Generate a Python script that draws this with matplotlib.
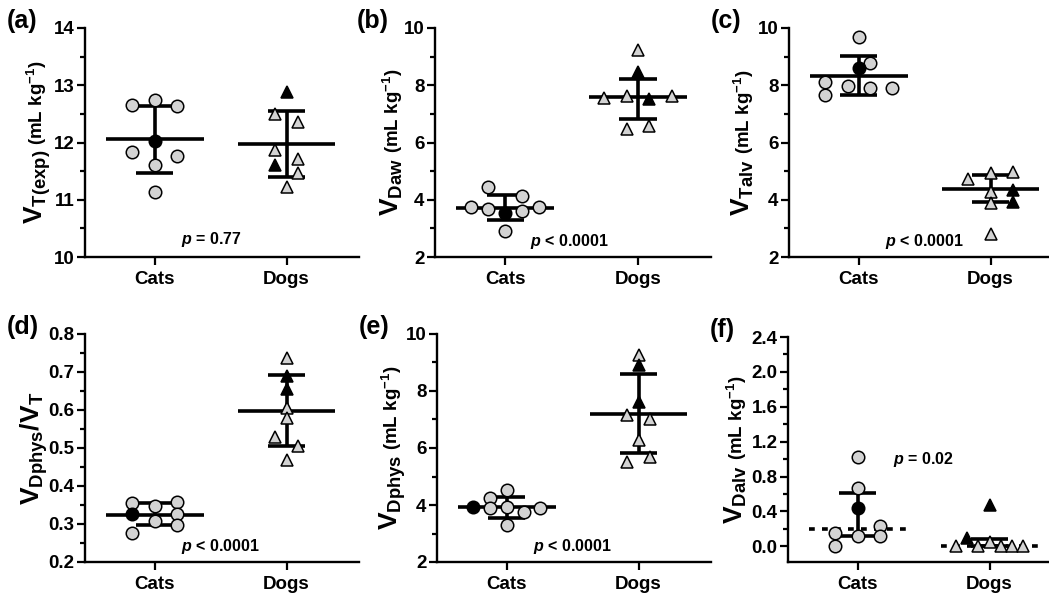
import numpy as np
import matplotlib.pyplot as plt
from matplotlib.ticker import MultipleLocator, FormatStrFormatter
from matplotlib.transforms import IdentityTransform

plt.rcParams['font.family'] = 'Liberation Sans'
plt.rcParams['font.weight'] = 'bold'
plt.rcParams['mathtext.fontset'] = 'custom'
plt.rcParams['mathtext.rm'] = 'Liberation Sans:bold'
plt.rcParams['mathtext.bf'] = 'Liberation Sans:bold'
plt.rcParams['mathtext.it'] = 'Liberation Sans:bold:italic'

groups = ['Cats', 'Dogs']

# ---- data (8 cats, 8 dogs; 1 = black marker) ----
# (a) VT(exp)
a_cats = [12.66, 12.75, 12.63, 11.84, 12.03, 11.77, 11.61, 11.13]
a_cats_slot = [-2, 0, 2, -2, 0, 2, 0, 0]
a_cats_black = [0, 0, 0, 0, 1, 0, 0, 0]
a_dogs = [12.88, 12.50, 12.35, 11.87, 11.61, 11.72, 11.47, 11.23]
a_dogs_slot = [0, -1, 1, -1, -1, 1, 1, 0]
a_dogs_black = [1, 0, 0, 0, 1, 0, 0, 0]
a_mid = [12.06, 11.97]
a_low = [11.47, 11.39]
a_high = [12.63, 12.55]

# (b) VDaw
b_cats = [4.43, 4.13, 3.75, 3.67, 3.75, 3.60, 3.52, 2.90]
b_cats_slot = [-1.5, 1.5, -3, -1.5, 3, 1.5, 0, 0]
b_cats_black = [0, 0, 0, 0, 0, 0, 1, 0]
b_dogs = [9.24, 8.46, 7.55, 7.63, 7.52, 7.63, 6.47, 6.59]
b_dogs_slot = [0, 0, -3, -1, 1, 3, -1, 1]
b_dogs_black = [0, 1, 0, 0, 1, 0, 0, 0]
b_mid = [3.72, 7.58]
b_low = [3.28, 6.82]
b_high = [4.18, 8.22]

# (c) VTalv
c_cats = [9.67, 8.62, 8.77, 8.11, 7.66, 7.96, 7.90, 7.92]
c_cats_slot = [0, 0, 1, -3, -3, -1, 1, 3]
c_cats_black = [0, 1, 0, 0, 0, 0, 0, 0]
c_dogs = [4.72, 4.92, 4.98, 4.28, 4.34, 3.87, 3.93, 2.79]
c_dogs_slot = [-2, 0, 2, 0, 2, 0, 2, 0]
c_dogs_black = [0, 0, 0, 0, 1, 0, 1, 0]
c_mid = [8.34, 4.37]
c_low = [7.66, 3.93]
c_high = [9.01, 4.86]

# (d) VDphys/VT
d_cats = [0.356, 0.348, 0.358, 0.327, 0.327, 0.307, 0.297, 0.277]
d_cats_slot = [-2, 0, 2, -2, 2, 0, 2, -2]
d_cats_black = [0, 0, 0, 1, 0, 0, 0, 0]
d_dogs = [0.738, 0.689, 0.654, 0.606, 0.578, 0.529, 0.506, 0.468]
d_dogs_slot = [0, 0, 0, 0, 0, -1, 1, 0]
d_dogs_black = [0, 1, 1, 0, 0, 0, 0, 0]
d_mid = [0.325, 0.597]
d_low = [0.297, 0.505]
d_high = [0.354, 0.692]

# (e) VDphys
e_cats = [3.94, 4.25, 3.88, 4.52, 3.94, 3.31, 3.74, 3.88]
e_cats_slot = [-3, -1.5, -1.5, 0, 0, 0, 1.5, 3]
e_cats_black = [1, 0, 0, 0, 0, 0, 0, 0]
e_dogs = [9.27, 8.90, 7.61, 7.16, 7.02, 6.28, 5.52, 5.70]
e_dogs_slot = [0, 0, 0, -1, 1, 0, -1, 1]
e_dogs_black = [0, 1, 1, 0, 0, 0, 0, 0]
e_mid = [3.94, 7.20]
e_low = [3.56, 5.81]
e_high = [4.28, 8.59]

# (f) VDalv
f_cats = [1.025, 0.672, 0.442, 0.238, 0.154, 0.115, 0.115, 0.008]
f_cats_slot = [0, 0, 0, 2, -2, 0, 2, -2]
f_cats_black = [0, 0, 1, 0, 0, 0, 0, 0]
f_dogs = [0.476, 0.096, 0.0, 0.0, 0.046, 0.0, 0.0, 0.0]
f_dogs_slot = [0, -2, -3, -1, 0, 1, 2, 3]
f_dogs_black = [1, 1, 0, 0, 0, 0, 0, 0]
f_mid = [0.20, 0.0]
f_low = [0.115, 0.0]
f_high = [0.614, 0.085]

p_texts = ['= 0.77', '< 0.0001', '< 0.0001', '< 0.0001', '< 0.0001', '= 0.02']

W, H = 1049, 595
fig = plt.figure(figsize=(W / 100, H / 100), dpi=100)

def px_axes(left, top, right, bottom):
    return fig.add_axes([left / W, 1 - bottom / H, (right - left) / W, (bottom - top) / H])

panels = [
    dict(tag='(a)', box=(85, 28, 359, 257), ylim=(10, 14), major=1, minor=0.5, fmt='%d',
         v=r'$\mathbf{V}_{\mathbf{T(exp)}}$', unit=r'(mL kg$^{\mathbf{-1}}$)', lab_dx=42,
         data=[(a_cats, a_cats_slot, a_cats_black), (a_dogs, a_dogs_slot, a_dogs_black)],
         mid=a_mid, low=a_low, high=a_high, p=(0.43, 10.3), dashed=False),
    dict(tag='(b)', box=(435, 28, 711, 257), ylim=(2, 10), major=2, minor=1, fmt='%d',
         v=r'$\mathbf{V}_{\mathbf{Daw}}$', unit=r'(mL kg$^{\mathbf{-1}}$)', lab_dx=36,
         data=[(b_cats, b_cats_slot, b_cats_black), (b_dogs, b_dogs_slot, b_dogs_black)],
         mid=b_mid, low=b_low, high=b_high, p=(0.48, 2.53), dashed=False),
    dict(tag='(c)', box=(789, 28, 1063, 257), ylim=(2, 10), major=2, minor=1, fmt='%d',
         v=r'$\mathbf{V}_{\mathbf{Talv}}$', unit=r'(mL kg$^{\mathbf{-1}}$)', lab_dx=39,
         data=[(c_cats, c_cats_slot, c_cats_black), (c_dogs, c_dogs_slot, c_dogs_black)],
         mid=c_mid, low=c_low, high=c_high, p=(0.5, 2.55), dashed=False),
    dict(tag='(d)', box=(85, 334, 359, 562), ylim=(0.2, 0.8), major=0.1, minor=0.05, fmt='%.1f',
         v=r'$\mathbf{V}_{\mathbf{Dphys}}\mathbf{/V}_{\mathbf{T}}$', unit=None, lab_dx=45,
         data=[(d_cats, d_cats_slot, d_cats_black), (d_dogs, d_dogs_slot, d_dogs_black)],
         mid=d_mid, low=d_low, high=d_high, p=(0.5, 0.242), dashed=False),
    dict(tag='(e)', box=(437, 334, 711, 562), ylim=(2, 10), major=2, minor=1, fmt='%d',
         v=r'$\mathbf{V}_{\mathbf{Dphys}}$', unit=r'(mL kg$^{\mathbf{-1}}$)', lab_dx=39,
         data=[(e_cats, e_cats_slot, e_cats_black), (e_dogs, e_dogs_slot, e_dogs_black)],
         mid=e_mid, low=e_low, high=e_high, p=(0.5, 2.56), dashed=False),
    dict(tag='(f)', box=(788, 337, 1062, 562), ylim=(-0.18, 2.4), major=0.4, minor=0.2, fmt='%.1f',
         v=r'$\mathbf{V}_{\mathbf{Dalv}}$', unit=r'(mL kg$^{\mathbf{-1}}$)', lab_dx=45,
         data=[(f_cats, f_cats_slot, f_cats_black), (f_dogs, f_dogs_slot, f_dogs_black)],
         mid=f_mid, low=f_low, high=f_high, p=(0.5, 1.0), dashed=True),
]

SLOT = 0.085
LW = 2.6
renderer = fig.canvas.get_renderer()

for k, P in enumerate(panels):
    ax = px_axes(*P['box'])
    ax.set_xlim(-0.53, 1.55)
    ax.set_ylim(*P['ylim'])
    for s in ['top', 'right']:
        ax.spines[s].set_visible(False)
    for s in ['left', 'bottom']:
        ax.spines[s].set_linewidth(1.7)
    ax.set_xticks([0, 1])
    ax.set_xticklabels(groups, fontsize=14.5, fontweight='bold')
    ax.yaxis.set_major_locator(MultipleLocator(P['major']))
    ax.yaxis.set_minor_locator(MultipleLocator(P['minor']))
    ax.yaxis.set_major_formatter(FormatStrFormatter(P['fmt']))
    ax.tick_params(axis='both', which='major', length=6, width=1.6, labelsize=13.5, pad=1.5)
    ax.tick_params(axis='x', pad=4)
    ax.tick_params(axis='y', which='minor', length=3.5, width=1.6)
    ax.tick_params(axis='x', which='minor', bottom=False)
    for t in ax.get_yticklabels():
        t.set_fontweight('bold')

    marker = ['o', '^']
    ms = [9.0, 9.2]
    for g, (vals, slots, black) in enumerate(P['data']):
        # summary lines: centre line, bar, caps
        ls = (0, (1.6, 2.0)) if P['dashed'] else '-'
        ax.plot([g - 0.37, g + 0.37], [P['mid'][g]] * 2, color='black', lw=LW, ls=ls,
                solid_capstyle='butt', zorder=2)
        ax.plot([g, g], [P['low'][g], P['high'][g]], color='black', lw=LW,
                solid_capstyle='butt', zorder=2)
        for yv in (P['low'][g], P['high'][g]):
            ax.plot([g - 0.14, g + 0.14], [yv, yv], color='black', lw=LW,
                    solid_capstyle='butt', zorder=2)
        x = g + np.array(slots) * SLOT
        y = np.array(vals)
        b = np.array(black, dtype=bool)
        ax.plot(x[~b], y[~b], ls='none', marker=marker[g], ms=ms[g], mfc='#d3d3d3',
                mec='black', mew=1.1, zorder=3, clip_on=False)
        ax.plot(x[b], y[b], ls='none', marker=marker[g], ms=ms[g], mfc='black',
                mec='black', mew=1.1, zorder=4, clip_on=False)

    ax.text(P['p'][0], P['p'][1], r'$\mathit{p}$ ' + p_texts[k],
            ha='center', va='center', fontsize=11.5, fontweight='bold')

    # y label: large V with subscript, followed by smaller units
    left, top, right, bottom = P['box']
    xb = left - P['lab_dx']
    yc = H - (top + bottom) / 2
    t1 = fig.text(xb, 0, P['v'], rotation=90, rotation_mode='anchor', ha='left',
                  va='baseline', fontsize=19, transform=IdentityTransform())
    L1 = t1.get_window_extent(renderer).height
    total = L1
    t2 = None
    if P['unit']:
        t2 = fig.text(xb, 0, P['unit'], rotation=90, rotation_mode='anchor', ha='left',
                      va='baseline', fontsize=13.5, fontweight='bold', transform=IdentityTransform())
        L2 = t2.get_window_extent(renderer).height
        total = L1 + 5 + L2
    y0 = yc - total / 2
    t1.set_position((xb, y0))
    if t2 is not None:
        t2.set_position((xb, y0 + L1 + 5))

    # panel tag
    fig.text(left - 78, H - (top - 7), P['tag'], ha='left', va='center', fontsize=18,
             fontweight='bold', transform=IdentityTransform())

fig.savefig('out.png', dpi=100)
